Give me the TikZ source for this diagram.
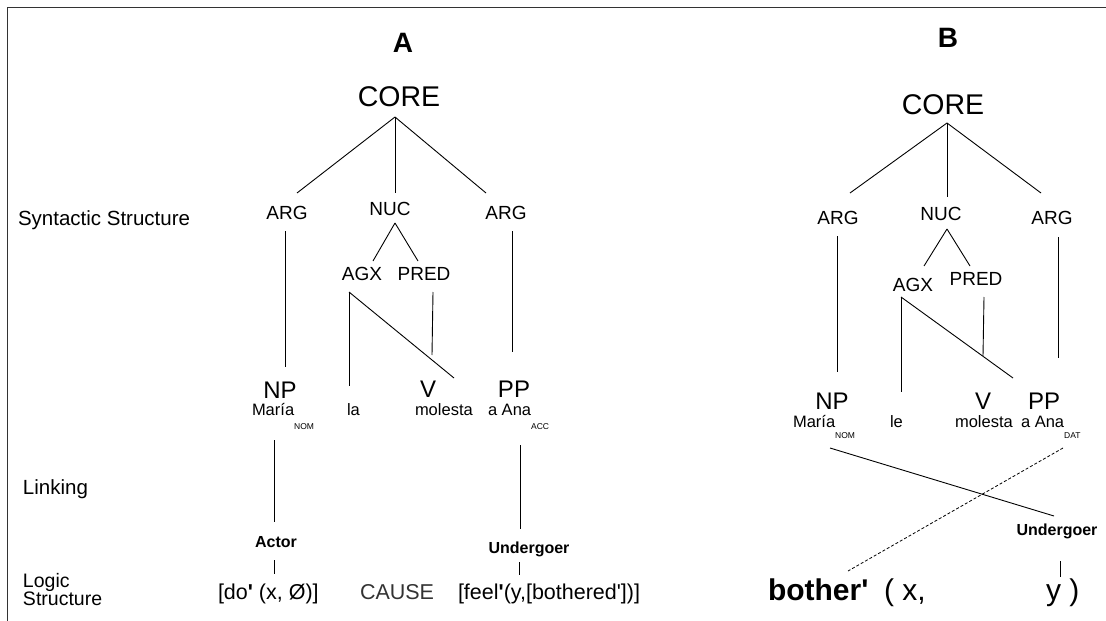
\documentclass[tikz,border=0pt]{standalone}
\usepackage{fontspec}
\setmainfont{Liberation Sans}
\newcommand{\fsz}[1]{\fontsize{#1}{#1}\selectfont}
\newcommand{\subA}[1]{\raisebox{-14pt}{\fsz{8.5}#1}}
\newcommand{\subB}[1]{\raisebox{-11pt}{\fsz{8.5}#1}}
\newcommand{\pr}{\textquotesingle}
\begin{document}
\begin{tikzpicture}[x=1pt,y=-1pt,
  every node/.style={inner sep=0pt,outer sep=0pt,anchor=base},
  ttl/.style={font=\fsz{28}\bfseries},
  core/.style={font=\fsz{28.5}},
  cat/.style={font=\fsz{19}},
  phr/.style={font=\fsz{24}},
  word/.style={font=\fsz{16.5},anchor=base west},
  role/.style={font=\fsz{16}\bfseries},
  lgc/.style={font=\fsz{21.5},anchor=base west},
  side/.style={font=\fsz{20.5},anchor=base west},
  sidesm/.style={font=\fsz{19.5},anchor=base west},
  edge/.style={line width=0.9pt},
  dashedge/.style={line width=0.8pt,dash pattern=on 3pt off 2pt},
  frame/.style={line width=1.5pt,draw=black!80}]
\useasboundingbox (0,0) rectangle (1106,621);
% frame
\coordinate (frTR) at (1106,7.5);
\coordinate (frTL) at (7.5,7.5);
\coordinate (frBL) at (7.5,621);
\draw[frame] (frTR) -- (frTL) -- (frBL);

% side labels
\node[side] (lblSyn) at (18,225) {Syntactic Structure};
\node[side] (lblLink) at (23,494) {Linking};
\node[sidesm] (lblLog1) at (23,587) {Logic};
\node[sidesm] (lblLog2) at (23,605) {Structure};

% ---------------- A ----------------
\node[ttl] (ttlA) at (403,52) {A};
\node[core] (coreA) at (399,106) {CORE};
\node[cat] (argA1) at (287,219) {ARG};
\node[cat] (nucA) at (390,215) {NUC};
\node[cat] (argA2) at (506,219) {ARG};
\node[cat] (agxA) at (362,280) {AGX};
\node[cat] (predA) at (424,280) {PRED};
\node[phr] (npA) at (280,398) {NP};
\node[phr] (vA) at (428,397) {V};
\node[phr] (ppA) at (514,397) {PP};
\node[word] (mariaA) at (252,415) {María\subA{NOM}};
\node[word] (laA) at (347,415) {la};
\node[word] (molestaA) at (415,415) {molesta};
\node[word] (anaA) at (488,415) {a Ana\subA{ACC}};
\node[role] (actorA) at (276,547) {Actor};
\node[role] (undA) at (529,553) {Undergoer};
\node[lgc] (doA) at (218,599) {[do\textbf{\pr} (x, Ø)]};
\node[lgc,text=black!80] (causeA) at (360,599) {CAUSE};
\node[lgc] (feelA) at (458,599) {[feel\textbf{\pr}(y,[bothered\pr])]};

\draw[edge] ([shift={(-4,11)}]coreA.base) -- ([shift={(10,-26)}]argA1.base);
\draw[edge] ([shift={(-4,11)}]coreA.base) -- ([shift={(5,-22)}]nucA.base);
\draw[edge] ([shift={(-4,11)}]coreA.base) -- ([shift={(-20,-26)}]argA2.base);
\draw[edge] ([shift={(-2,12)}]argA1.base) -- ([shift={(5,-31)}]npA.base);
\draw[edge] ([shift={(6,12)}]argA2.base) -- ([shift={(-2,-45)}]ppA.base);
\draw[edge] ([shift={(5,8)}]nucA.base) -- ([shift={(11,-19)}]agxA.base);
\draw[edge] ([shift={(5,8)}]nucA.base) -- ([shift={(-6,-19)}]predA.base);
\draw[edge] ([shift={(-13,12)}]agxA.base) -- ([shift={(2,-29)}]laA.base west);
\draw[edge] ([shift={(-13,12)}]agxA.base) -- ([shift={(26,-19)}]vA.base);
\draw[edge] ([shift={(9,12)}]predA.base) -- ([shift={(4,-42)}]vA.base);
\draw[edge] ([shift={(22,25)}]mariaA.base west) -- ([shift={(-2,-25)}]actorA.base);
\draw[edge] ([shift={(-2,13)}]actorA.base) -- ([shift={(56,-25)}]doA.base west);
\draw[edge] ([shift={(32,30)}]anaA.base west) -- ([shift={(-9,-24)}]undA.base);
\draw[edge] ([shift={(-10,9)}]undA.base) -- ([shift={(61,-24)}]feelA.base west);

% ---------------- B ----------------
\node[ttl] (ttlB) at (948,47) {B};
\node[core] (coreB) at (943,114) {CORE};
\node[cat] (argB1) at (838,224) {ARG};
\node[cat] (nucB) at (941,220) {NUC};
\node[cat] (argB2) at (1052,224) {ARG};
\node[cat] (agxB) at (913,291) {AGX};
\node[cat] (predB) at (976,285) {PRED};
\node[phr] (npB) at (832,409) {NP};
\node[phr] (vB) at (983,409) {V};
\node[phr] (ppB) at (1044,409) {PP};
\node[word] (mariaB) at (793,427) {María\subB{NOM}};
\node[word] (leB) at (890,427) {le};
\node[word] (molestaB) at (955,427) {molesta};
\node[word] (anaB) at (1021,427) {a Ana\subB{DAT}};
\node[role] (undB) at (1057,535) {Undergoer};
\node[anchor=base west,font=\fsz{30}\bfseries] (botherB) at (768,600) {bother\pr};
\node[anchor=base west,font=\fsz{30}] (xB) at (884,600) {( x,};
\node[anchor=base west,font=\fsz{30}] (yB) at (1046,600) {y )};

\draw[edge] ([shift={(4,9)}]coreB.base) -- ([shift={(12,-31)}]argB1.base);
\draw[edge] ([shift={(4,9)}]coreB.base) -- ([shift={(6,-23)}]nucB.base);
\draw[edge] ([shift={(4,9)}]coreB.base) -- ([shift={(-11,-31)}]argB2.base);
\draw[edge] ([shift={(-1,12)}]argB1.base) -- ([shift={(5,-37)}]npB.base);
\draw[edge] ([shift={(6,13)}]argB2.base) -- ([shift={(14,-51)}]ppB.base);
\draw[edge] ([shift={(6,9)}]nucB.base) -- ([shift={(11,-25)}]agxB.base);
\draw[edge] ([shift={(6,9)}]nucB.base) -- ([shift={(-6,-19)}]predB.base);
\draw[edge] ([shift={(-12,6)}]agxB.base) -- ([shift={(11,-35)}]leB.base west);
\draw[edge] ([shift={(-12,6)}]agxB.base) -- ([shift={(30,-31)}]vB.base);
\draw[edge] ([shift={(8,12)}]predB.base) -- ([shift={(0,-53)}]vB.base);
\draw[edge] ([shift={(37,21)}]mariaB.base west) -- ([shift={(-3,-19)}]undB.base);
\draw[dashedge] ([shift={(42,21)}]anaB.base west) -- ([shift={(80,-29)}]botherB.base west);
\draw[edge] ([shift={(3,26)}]undB.base) -- ([shift={(14,-23)}]yB.base west);
\end{tikzpicture}
\end{document}
